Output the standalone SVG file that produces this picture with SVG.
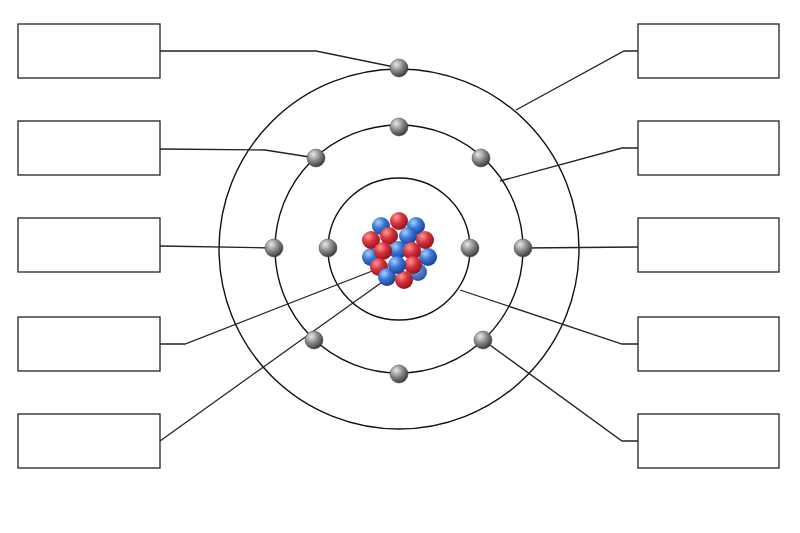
<svg xmlns="http://www.w3.org/2000/svg" width="800" height="533" viewBox="0 0 800 533">
<defs>
<radialGradient id="gE" cx="0.35" cy="0.3" r="0.75"><stop offset="0" stop-color="#e8e8e8"/><stop offset="0.5" stop-color="#888"/><stop offset="1" stop-color="#333"/></radialGradient>
<radialGradient id="gR" cx="0.35" cy="0.3" r="0.75"><stop offset="0" stop-color="#ff9a9a"/><stop offset="0.45" stop-color="#d8343c"/><stop offset="1" stop-color="#8a1018"/></radialGradient>
<radialGradient id="gB" cx="0.35" cy="0.3" r="0.75"><stop offset="0" stop-color="#a8d0ff"/><stop offset="0.45" stop-color="#3a78d8"/><stop offset="1" stop-color="#1a3a8a"/></radialGradient>
<style>
.box{fill:#fff;stroke:#222;stroke-width:1.3}
.ring{fill:none;stroke:#111;stroke-width:1.4}
.ln{fill:none;stroke:#222;stroke-width:1.3}
.e{fill:url(#gE);stroke:#444;stroke-width:0.5}
.r{fill:url(#gR)}.b{fill:url(#gB)}
</style>
</defs>
<rect width="800" height="533" fill="#fff"/>
<g id="rings">
<circle class="ring" cx="399" cy="249" r="71"/>
<circle class="ring" cx="399" cy="249" r="124"/>
<circle class="ring" cx="399" cy="249" r="180"/>
</g>
<g id="connectors">
<polyline class="ln" points="160,51 316,51 399,68"/>
<polyline class="ln" points="160,149 265,150 316,158"/>
<polyline class="ln" points="160,246 274,248"/>
<polyline class="ln" points="160,344 185,344 380,268"/>
<polyline class="ln" points="160,441 385,280"/>
<polyline class="ln" points="638,51 624,51 516,110"/>
<polyline class="ln" points="638,148 622,148 500,181"/>
<polyline class="ln" points="638,247 523,248"/>
<polyline class="ln" points="638,344 622,344 460,290"/>
<polyline class="ln" points="638,441 622,441 483,340"/>
</g>
<g id="nucleus">
<circle class="b" cx="381" cy="226" r="9"/><circle class="b" cx="416" cy="226" r="9"/>
<circle class="r" cx="399" cy="221" r="9"/>
<circle class="b" cx="371" cy="257" r="9"/><circle class="b" cx="428" cy="257" r="9"/>
<circle class="r" cx="371" cy="240" r="9"/><circle class="r" cx="425" cy="240" r="9"/>
<circle class="r" cx="389" cy="236" r="9"/><circle class="b" cx="408" cy="236" r="9"/>
<circle class="b" cx="398" cy="250" r="9"/>
<circle class="r" cx="383" cy="251" r="9"/><circle class="r" cx="412" cy="251" r="9"/>
<circle class="b" cx="418" cy="272" r="9" opacity="0.9"/>
<circle class="r" cx="379" cy="267" r="9"/><circle class="r" cx="413" cy="265" r="9"/>
<circle class="b" cx="387" cy="277" r="9"/><circle class="r" cx="404" cy="280" r="9"/>
<circle class="b" cx="397" cy="265" r="9"/>
</g>
<g id="electrons">
<circle class="e" cx="399" cy="68" r="9"/>
<circle class="e" cx="399" cy="127" r="9"/>
<circle class="e" cx="316" cy="158" r="9"/><circle class="e" cx="481" cy="158" r="9"/>
<circle class="e" cx="274" cy="248" r="9"/><circle class="e" cx="523" cy="248" r="9"/>
<circle class="e" cx="328" cy="248" r="9"/><circle class="e" cx="470" cy="248" r="9"/>
<circle class="e" cx="314" cy="340" r="9"/><circle class="e" cx="483" cy="340" r="9"/>
<circle class="e" cx="399" cy="374" r="9"/>
</g>
<g id="box-l1"><rect class="box" x="18" y="24" width="142" height="54"/></g>
<g id="box-l2"><rect class="box" x="18" y="121" width="142" height="54"/></g>
<g id="box-l3"><rect class="box" x="18" y="218" width="142" height="54"/></g>
<g id="box-l4"><rect class="box" x="18" y="317" width="142" height="54"/></g>
<g id="box-l5"><rect class="box" x="18" y="414" width="142" height="54"/></g>
<g id="box-r1"><rect class="box" x="638" y="24" width="141" height="54"/></g>
<g id="box-r2"><rect class="box" x="638" y="121" width="141" height="54"/></g>
<g id="box-r3"><rect class="box" x="638" y="218" width="141" height="54"/></g>
<g id="box-r4"><rect class="box" x="638" y="317" width="141" height="54"/></g>
<g id="box-r5"><rect class="box" x="638" y="414" width="141" height="54"/></g>
</svg>
